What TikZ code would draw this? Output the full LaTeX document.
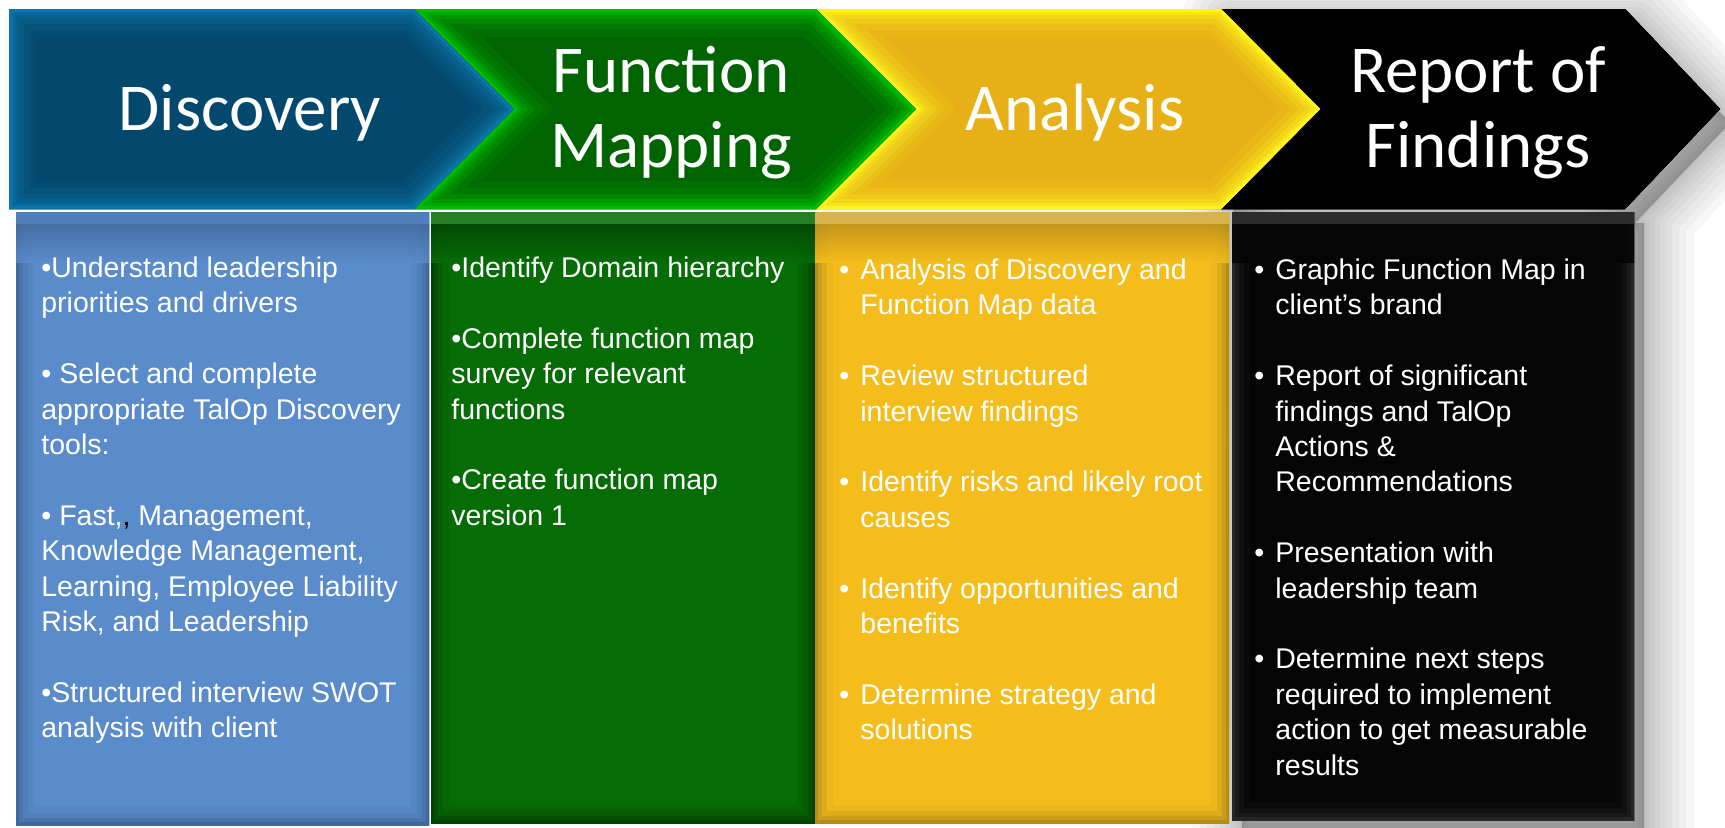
\documentclass[tikz,border=0pt]{standalone}
\usepackage{fontspec}
\setmainfont{Liberation Sans}
\newfontfamily\titlefont{Carlito}

\definecolor{bluechev}{HTML}{03486D}
\definecolor{bluechevedge}{HTML}{0B74A8}
\definecolor{greenchev}{HTML}{006500}
\definecolor{greenchevedge}{HTML}{00BC00}
\definecolor{yellowchev}{HTML}{E6B016}
\definecolor{yellowchevedge}{HTML}{FFF41C}
\definecolor{blackchev}{HTML}{000000}
\definecolor{bluebox}{HTML}{5A8BCB}
\definecolor{blueboxdark}{HTML}{3D628F}
\definecolor{greenbox}{HTML}{066C06}
\definecolor{greenboxdark}{HTML}{023A02}
\definecolor{yellowbox}{HTML}{F5BD1C}
\definecolor{yellowboxdark}{HTML}{A9831A}
\definecolor{blackbox}{HTML}{050505}
\definecolor{blackboxedge}{HTML}{2C2C2C}

% chevron: left x, notch x, corner x, tip x, body colour, edge colour
\newcommand\chevron[6]{%
  \fill[#5] (#1,9) -- (#2,109) -- (#1,209) -- (#3,209) -- (#4,109) -- (#3,9) -- cycle;
  \begin{scope}
    \clip (#1,9) -- (#2,109) -- (#1,209) -- (#3,209) -- (#4,109) -- (#3,9) -- cycle;
    \foreach \w/\m in {28/10,21/22,15/38,10/56,6/76,3/100}{
      \draw[color=#6!\m!#5, line width=\w pt, line join=miter]
        (#1,9) -- (#2,109) -- (#1,209) -- (#3,209) -- (#4,109) -- (#3,9) -- cycle;
    }
  \end{scope}
}

% panel: x1, y1, x2, y2, body colour, edge colour, top colour, top rim colour
\newcommand\panel[8]{%
  \fill[#5] (#1,#2) rectangle (#3,#4);
  \begin{scope}
    \clip (#1,#2) rectangle (#3,#4);
    \foreach \w/\m in {18/12,12/30,7/55,3/85}{
      \draw[color=#6!\m!#5, line width=\w pt, line join=miter]
        (#1,{#2-30}) -- (#1,#4) -- (#3,#4) -- (#3,{#2-30});
    }
    \shade[top color=#7, bottom color=#5, opacity=0.85] (#1,#2) rectangle (#3,{#2+50});
    \draw[#8, line width=12pt] (#1,#2) -- (#3,#2);
  \end{scope}
}

\newcommand\hb{\makebox[10.5pt][l]{•}}
\newcommand\ind{\hspace*{10.5pt}}
% fixed height of the first line, so that the top anchor sits a known distance above the first baseline
\newcommand\firstln{\rule{0pt}{12pt}}
\newcommand\firsttl{\rule{0pt}{30pt}}

\tikzset{
  title/.style={text=white, font=\titlefont\fontsize{33.5}{37.5}\selectfont,
    align=center, anchor=north, inner sep=0pt},
  body/.style={text=white, font=\fontsize{14.25}{17.7}\selectfont,
    align=left, anchor=north west, inner sep=0pt},
}

\begin{document}
\begin{tikzpicture}[x=0.5pt,y=-0.5pt]
\useasboundingbox (0,0) rectangle (1725,827);

% soft shadow on the right of the last stage
\begin{scope}[shift={(10,14)}]
  \foreach \w in {50,42,35,28,22,16,11,6,2}{
    \fill[black, opacity=0.03, draw=black, draw opacity=0.03, line width=\w pt, line join=round]
      (1221,9) -- (1625,9) -- (1720,109) -- (1625,209) -- (1634,209) -- (1634,820) -- (1232,820) -- cycle;
  }
\end{scope}

% lower panels
\panel{16}{212}{429}{825}{bluebox}{blueboxdark}{blueboxdark}{bluebox!70!blueboxdark}
\panel{431}{212}{815}{823}{greenbox}{greenboxdark}{greenboxdark}{greenbox!88!white}
\panel{815}{212}{1229}{823}{yellowbox}{yellowboxdark}{yellowboxdark}{yellowbox!50!yellowboxdark!80!white}
\panel{1232}{212}{1634}{820}{blackbox}{blackboxedge}{blackbox}{blackboxedge}

% header chevrons
\chevron{1221}{1320}{1625}{1720}{blackchev}{blackchev}
\chevron{816}{916}{1221}{1320}{yellowchev}{yellowchevedge}
\chevron{414}{514}{816}{916}{greenchev}{greenchevedge}
\chevron{9}{9}{414}{514}{bluechev}{bluechevedge}

% stage titles
\node[title] (t1) at (250,70) {\firsttl Discovery};
\node[title] (t2) at (671,32) {\firsttl Function\\Mapping};
\node[title] (t3) at (1075,70) {\firsttl Analysis};
\node[title] (t4) at (1478,32) {\firsttl Report of\\Findings};

% stage contents
\node[body] (b1) at (41,253) {\firstln•Understand leadership\\priorities and drivers\\[17.7pt]%
• Select and complete\\appropriate TalOp Discovery\\tools:\\[17.7pt]%
• Fast,{\color{black},} Management,\\Knowledge Management,\\Learning, Employee Liability\\Risk, and Leadership\\[17.7pt]%
•Structured interview SWOT\\analysis with client};

\node[body] (b2) at (451,253) {\firstln•Identify Domain hierarchy\\[17.7pt]%
•Complete function map\\survey for relevant\\functions\\[17.7pt]%
•Create function map\\version 1};

\node[body] (b3) at (839,255) {\firstln\hb Analysis of Discovery and\\\ind Function Map data\\[17.7pt]%
\hb Review structured\\\ind interview findings\\[17.7pt]%
\hb Identify risks and likely root\\\ind causes\\[17.7pt]%
\hb Identify opportunities and\\\ind benefits\\[17.7pt]%
\hb Determine strategy and\\\ind solutions};

\node[body] (b4) at (1254,255) {\firstln\hb Graphic Function Map in\\\ind client’s brand\\[17.7pt]%
\hb Report of significant\\\ind findings and TalOp\\\ind Actions \&\\\ind Recommendations\\[17.7pt]%
\hb Presentation with\\\ind leadership team\\[17.7pt]%
\hb Determine next steps\\\ind required to implement\\\ind action to get measurable\\\ind results};
\end{tikzpicture}
\end{document}
